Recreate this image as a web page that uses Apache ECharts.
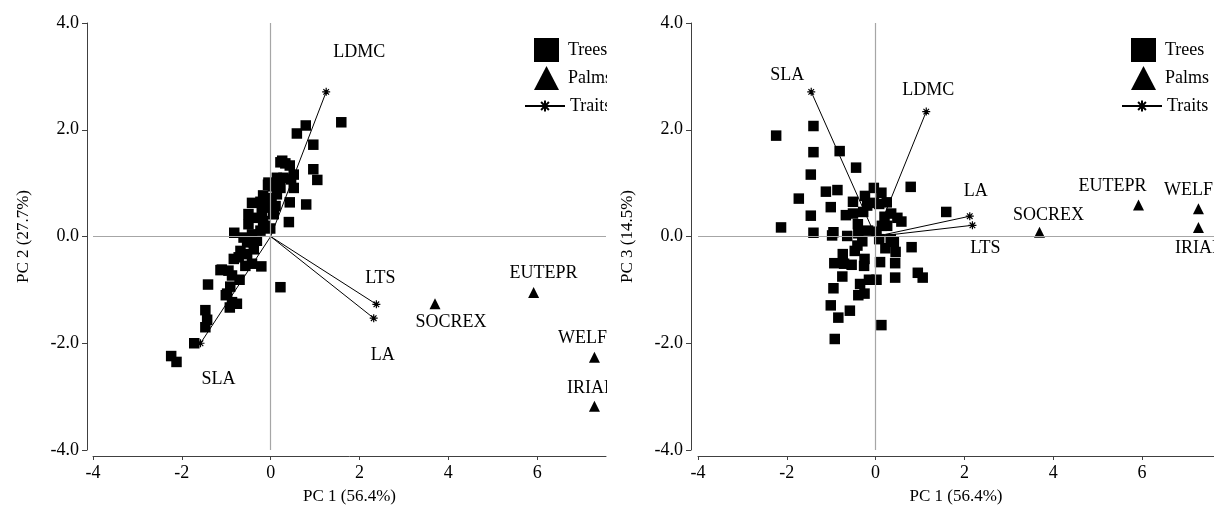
<!DOCTYPE html>
<html>
<head>
<meta charset="utf-8">
<script src="https://cdn.jsdelivr.net/npm/echarts@6/dist/echarts.min.js"></script>
<style>
html,body{margin:0;padding:0;background:#fff;}
#wrap{position:relative;width:1214px;height:510px;overflow:hidden;}
#left{position:absolute;left:0;top:0;width:607px;height:510px;}
#right{position:absolute;left:607px;top:0;width:607px;height:510px;}
</style>
</head>
<body>
<div id="wrap"><div id="left"></div><div id="right"></div></div>
<script>
// ---------- DATA ----------
var xTicks = [-4, -2, 0, 2, 4, 6];
var yTicks = [-4, -2, 0, 2, 4];

var traitNames = ['LDMC', 'SLA', 'LTS', 'LA'];
var traitsPC12 = [[1.25, 2.71], [-1.58, -2.00], [2.38, -1.27], [2.32, -1.53]];
var traitsPC13 = [[1.14, 2.34], [-1.45, 2.71], [2.18, 0.21], [2.12, 0.38]];

var palmNames = ['SOCREX', 'EUTEPR', 'WELF', 'IRIAR'];
var palmsPC12 = [[3.70, -1.26], [5.92, -1.05], [7.29, -2.26], [7.29, -3.18]];
var palmsPC13 = [[3.69, 0.08], [5.92, 0.59], [7.27, 0.52], [7.27, 0.17]];

var treesPC12 = [
 [1.59,2.14],[0.79,2.08],[0.59,1.93],[0.96,1.72],[0.22,1.39],[0.33,1.37],[0.43,1.33],[0.96,1.26],
 [1.05,1.06],[-0.05,1.01],[0.14,1.10],[0.29,1.10],[0.46,1.07],[0.52,0.91],[0.05,0.94],[-0.17,0.77],
 [0.14,0.79],[-0.42,0.63],[-0.23,0.65],[-0.05,0.68],[0.43,0.64],[0.80,0.60],[-0.50,0.42],[-0.20,0.48],
 [0.05,0.42],[0.41,0.27],[-0.50,0.23],[-0.17,0.29],[-0.01,0.15],[-0.82,0.07],[-0.61,-0.02],[-0.42,0.04],
 [-0.23,0.11],[-0.53,-0.11],[-0.31,-0.08],[-0.38,-0.24],[-0.72,-0.39],[-0.57,-0.55],[-0.42,-0.51],[-0.21,-0.56],
 [-1.10,-0.62],[-0.95,-0.64],[-0.87,-0.73],[-0.70,-0.81],[-1.41,-0.90],[-0.91,-0.94],[0.22,-0.95],[-1.01,-1.10],
 [-0.76,-1.26],[-0.92,-1.33],[-1.47,-1.38],[-1.43,-1.56],[-1.47,-1.70],[-1.72,-2.00],[-2.24,-2.24],[-2.12,-2.35],
 [0.26,1.42],[-0.06,0.97],[0.22,0.91],[-0.12,0.54],[0.11,0.57],[-0.32,0.35],[-0.12,0.20],[-0.38,-0.11],
 [-0.68,-0.27],[-0.53,-0.33],[-0.83,-0.42],[-1.13,-0.63],[-0.98,-1.07],[-0.87,-1.23],[0.52,1.16],[0.07,0.42],
 [0.02,0.72]
];

var treesPC13 = [
 [-2.24,1.89],[-1.40,2.07],[-1.40,1.58],[-0.81,1.60],[-0.44,1.29],[-1.46,1.16],[-1.12,0.84],[-0.86,0.87],
 [-1.73,0.71],[-1.01,0.55],[-1.46,0.39],[-2.13,0.17],[-1.40,0.07],[-0.95,0.08],[-0.98,0.02],[-0.04,0.91],
 [0.13,0.82],[-0.24,0.76],[0.25,0.64],[0.08,0.61],[-0.19,0.58],[-0.51,0.65],[-0.28,0.46],[-0.51,0.43],
 [-0.67,0.40],[0.79,0.93],[1.59,0.46],[0.35,0.43],[0.20,0.37],[0.49,0.35],[0.58,0.28],[0.26,0.20],
 [-0.40,0.23],[-0.17,0.11],[0.02,0.09],[-0.64,0.01],[-0.39,0.06],[-0.30,-0.09],[0.08,-0.05],[0.34,-0.05],
 [0.41,-0.10],[0.81,-0.20],[0.22,-0.22],[0.45,-0.29],[-0.47,-0.27],[-0.74,-0.33],[-0.93,-0.50],[-0.71,-0.51],
 [-0.54,-0.53],[-0.25,-0.42],[-0.26,-0.55],[0.10,-0.48],[0.44,-0.50],[-0.75,-0.75],[-0.35,-0.89],[-0.15,-0.81],
 [0.02,-0.81],[0.44,-0.77],[0.95,-0.68],[1.06,-0.77],[-0.95,-0.97],[-0.39,-1.10],[-0.25,-1.07],[-1.01,-1.29],
 [-0.58,-1.39],[-0.84,-1.52],[0.13,-1.66],[-0.92,-1.92],[-0.04,0.63],[0.14,0.20],[-0.41,-0.17]
];

// ---------- STYLE / LAYOUT ----------
var FONT = '"Liberation Serif", "Times New Roman", serif';
var ASTER = 'path://M5,0L5,10M0,5L10,5M1.5,1.5L8.5,8.5M1.5,8.5L8.5,1.5';

var labelOffsets12 = {LDMC:[33,-40], SLA:[18,36], LTS:[4,-26], LA:[9,37],
  SOCREX:[16,19], EUTEPR:[10,-19], WELF:[-12,-19], IRIAR:[-3,-18]};
var labelOffsets13 = {SLA:[-24,-17], LDMC:[2,-21], LA:[6,-25], LTS:[13,23],
  SOCREX:[9,-17], EUTEPR:[-26,-19], WELF:[-10,-18], IRIAR:[1,21]};

function makeOption(cfg) {
  var series = [];
  series.push({
    name: 'Trees', type: 'scatter', symbol: 'rect', symbolSize: 10.5,
    itemStyle: {color: '#000', opacity: 1}, data: cfg.trees, z: 3,
    emphasis: {disabled: true},
    markLine: {
      silent: true, symbol: 'none', animation: false,
      lineStyle: {color: '#a6a6a6', type: 'solid', width: 1.2},
      label: {show: false},
      data: [{xAxis: 0}, {yAxis: 0}]
    }
  });
  series.push({
    name: 'Palms', type: 'scatter', symbol: 'triangle', symbolSize: 11,
    itemStyle: {color: '#000', opacity: 1}, z: 3,
    emphasis: {disabled: true},
    data: cfg.palmNames.map(function (n, i) {
      var off = cfg.offsets[n];
      return {value: cfg.palms[i], name: n,
        label: {show: true, position: 'inside', offset: off, formatter: n,
          color: '#000', opacity: 1, fontFamily: FONT, fontSize: 18}};
    })
  });
  cfg.traitNames.forEach(function (n, i) {
    var off = cfg.offsets[n];
    series.push({
      name: 'Traits', type: 'line', z: 4,
      symbol: ASTER, symbolSize: 8, showSymbol: true,
      emphasis: {disabled: true},
      lineStyle: {color: '#000', width: 1},
      itemStyle: {color: '#000', borderColor: '#000', borderWidth: 1.2, opacity: 1},
      data: [
        {value: [0, 0], symbol: 'none'},
        {value: cfg.traits[i], name: n,
          label: {show: true, position: 'inside', offset: off, formatter: n,
            color: '#000', fontFamily: FONT, fontSize: 18}}
      ]
    });
  });
  return {
    animation: false,
    textStyle: {fontFamily: FONT},
    grid: {left: cfg.gridLeft, top: 23, width: cfg.gridWidth, height: 431, containLabel: false},
    legend: [
      {data: [{name: 'Trees', icon: 'rect', itemStyle: {color: '#000', opacity: 1}},
              {name: 'Palms', icon: 'triangle', itemStyle: {color: '#000', opacity: 1}}],
       orient: 'vertical', left: cfg.legendLeft, top: 33, itemWidth: 25, itemHeight: 24, itemGap: 4,
       selectedMode: false,
       textStyle: {fontFamily: FONT, fontSize: 18, color: '#000', padding: [0, 0, 0, 4]}},
      {data: ['Traits'], orient: 'vertical', left: cfg.legendLeft - 10, top: 92,
       itemWidth: 40, itemHeight: 14, selectedMode: false,
       textStyle: {fontFamily: FONT, fontSize: 18, color: '#000', padding: [0, 0, 0, 0]}}
    ],
    xAxis: {
      type: 'value', min: -4, max: cfg.xMax, interval: 2, offset: 6,
      name: 'PC 1 (56.4%)', nameLocation: 'middle', nameGap: 32,
      nameTextStyle: {fontFamily: FONT, fontSize: 17, color: '#000'},
      axisLine: {show: true, onZero: false, lineStyle: {color: '#404040', width: 1}},
      axisTick: {show: true, length: 4, customValues: xTicks, lineStyle: {color: '#404040'}},
      axisLabel: {customValues: xTicks, fontFamily: FONT, fontSize: 18, color: '#000', margin: 8},
      splitLine: {show: false}
    },
    yAxis: {
      type: 'value', min: -4, max: 4, interval: 2, offset: cfg.yOffset,
      name: cfg.yName, nameLocation: 'middle', nameGap: 55,
      nameTextStyle: {fontFamily: FONT, fontSize: 17, color: '#000'},
      axisLine: {show: true, onZero: false, lineStyle: {color: '#404040', width: 1}},
      axisTick: {show: true, length: 5, customValues: yTicks, lineStyle: {color: '#404040'}},
      axisLabel: {customValues: yTicks, fontFamily: FONT, fontSize: 18, color: '#000', margin: 8,
        formatter: function (v) { return v.toFixed(1); }},
      splitLine: {show: false}
    },
    series: series
  };
}

var left = echarts.init(document.getElementById('left'), null, {renderer: 'canvas'});
left.setOption(makeOption({
  gridLeft: 93, gridWidth: 513, xMax: 7.55, yOffset: 6, yName: 'PC 2 (27.7%)',
  legendLeft: 529, trees: treesPC12, palms: palmsPC12, palmNames: palmNames,
  traits: traitsPC12, traitNames: traitNames, offsets: labelOffsets12
}));

var right = echarts.init(document.getElementById('right'), null, {renderer: 'canvas'});
right.setOption(makeOption({
  gridLeft: 91, gridWidth: 516, xMax: 7.62, yOffset: 7, yName: 'PC 3 (14.5%)',
  legendLeft: 519, trees: treesPC13, palms: palmsPC13, palmNames: palmNames,
  traits: traitsPC13, traitNames: traitNames, offsets: labelOffsets13
}));
</script>
</body>
</html>
